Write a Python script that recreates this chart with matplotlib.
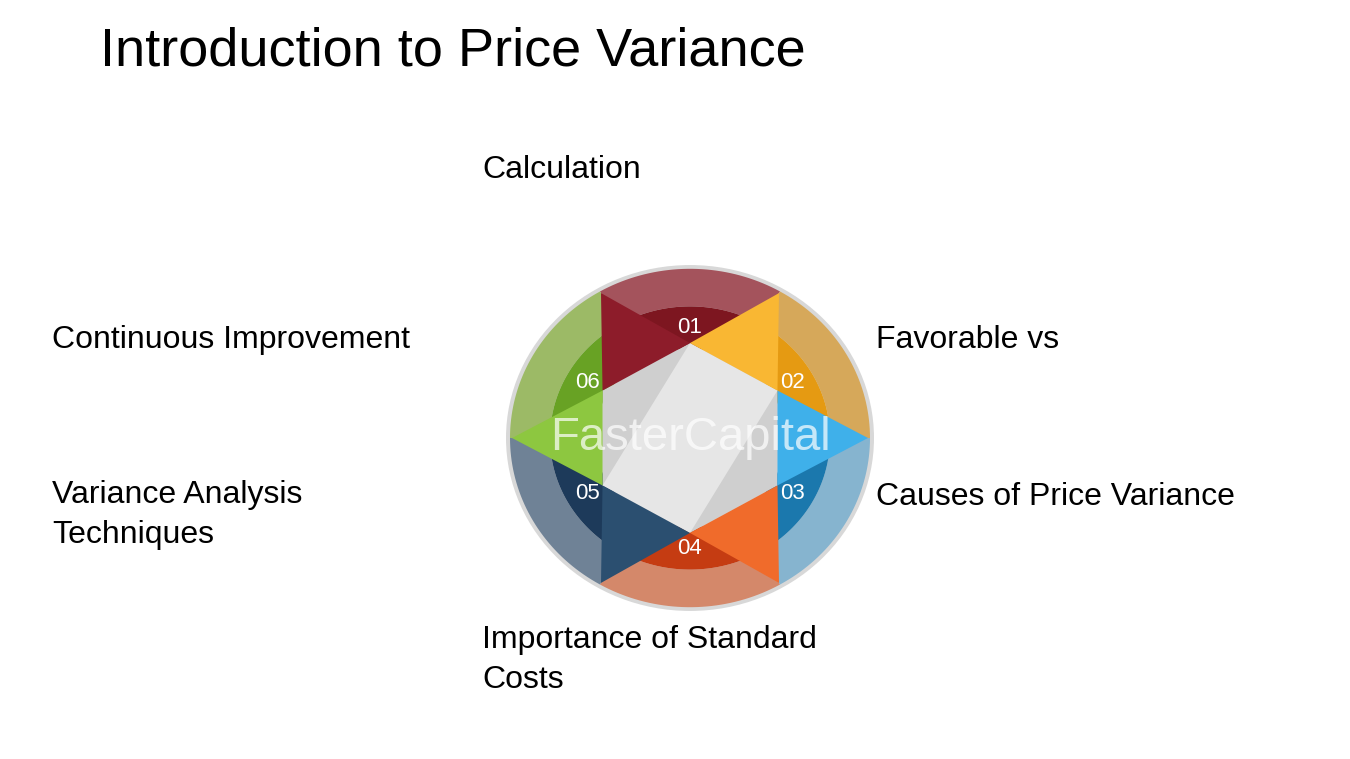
import matplotlib.pyplot as plt
import numpy as np
from matplotlib.patches import Polygon, Ellipse

plt.rcParams['font.family'] = ['Liberation Sans', 'DejaVu Sans']

title = 'Introduction to Price Variance'
numbers = ['01', '02', '03', '04', '05', '06']
centre_angles = [90, 30, -30, -90, -150, 150]
outer_colors = ['#a4535c', '#d6a85a', '#86b4cf', '#d4886a', '#6f8296', '#9cba66']
inner_colors = ['#7d1620', '#e59a12', '#1b78ad', '#c53c12', '#1d3a5a', '#68a224']
tri_colors = ['#8d1c2a', '#f9b733', '#3fb0ea', '#f06b2b', '#2b4f70', '#8dc740']
labels = [('Calculation', 482, 170),
          ('Favorable vs', 876, 340),
          ('Causes of Price Variance', 876, 497),
          ('Importance of Standard\nCosts', 482, 642),
          ('Variance Analysis\nTechniques', 52, 497),
          ('Continuous Improvement', 52, 340)]

fig = plt.figure(figsize=(13.5, 7.59), dpi=100)
ax = fig.add_axes([0, 0, 1, 1])
ax.set_xlim(0, 1350)
ax.set_ylim(759, 0)
ax.axis('off')

cx, cy = 690, 438
sy = 0.94

def pt(r, ang):
    a = np.radians(ang)
    return cx + r * np.cos(a), cy - r * np.sin(a) * sy

def ring(r0, r1, a0, a1, color):
    t = np.linspace(a0, a1, 40)
    outer = [pt(r1, a) for a in t]
    inner = [pt(r0, a) for a in t[::-1]]
    ax.add_patch(Polygon(outer + inner, closed=True, color=color, lw=0))

ax.add_patch(Ellipse((cx, cy), 368, 368 * sy, color='#d8d8d8', lw=0))
for i, c in enumerate(centre_angles):
    ring(140, 180, c - 30, c + 30, outer_colors[i])
    ring(95, 140, c - 30, c + 30, inner_colors[i])

# centre hexagon
ax.add_patch(Polygon([pt(101, a) for a in range(30, 390, 60)], closed=True,
                     color='#cfcfcf', lw=0))
ax.add_patch(Polygon([pt(101, 90), pt(101, 30), pt(101, -90), pt(101, 210)],
                     closed=True, color='#e6e6e6', lw=0))

# star points
for i, c in enumerate(centre_angles):
    tip = c + 30
    ax.add_patch(Polygon([pt(178, tip), pt(101, tip - 30), pt(101, tip + 30)],
                         closed=True, color=tri_colors[i], lw=0))
    x, y = pt(118, c)
    ax.text(x, y, numbers[i], color='white', fontsize=16, ha='center', va='center')

ax.text(cx, cy, 'FasterCapital', color='white', alpha=0.7, fontsize=34,
        ha='center', va='center')

ax.text(100, 52, title, fontsize=39, ha='left', va='center', color='black')
for txt, x, y in labels:
    if '\n' in txt:
        ax.text(x, y - 17, txt, fontsize=23, ha='left', va='top',
                linespacing=1.45, color='black')
    else:
        ax.text(x, y, txt, fontsize=23, ha='left', va='center', color='black')

fig.savefig('out.png', dpi=100)
